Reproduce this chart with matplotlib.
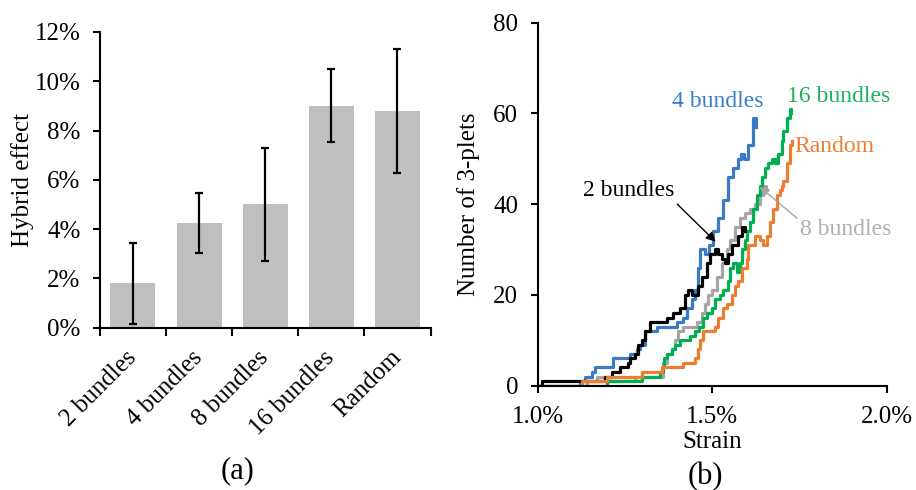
import matplotlib
matplotlib.use('Agg')
import matplotlib.pyplot as plt
from matplotlib.ticker import PercentFormatter, FixedLocator

plt.rcParams['font.family'] = ['Liberation Serif', 'DejaVu Serif']

# (a) hybrid effect per configuration, in %
categories = ['2 bundles', '4 bundles', '8 bundles', '16 bundles', 'Random']
hybrid_effect = [1.8, 4.25, 5.0, 9.0, 8.8]
hybrid_err = [1.65, 1.22, 2.28, 1.48, 2.52]

# (b) number of 3-plets vs strain (%)
blue_strain = [1.000, 1.120, 1.135, 1.155, 1.163, 1.215, 1.258, 1.264, 1.284, 1.292,
               1.307, 1.341, 1.398, 1.415, 1.427, 1.441, 1.450, 1.458, 1.465, 1.478,
               1.492, 1.501, 1.516, 1.530, 1.544, 1.559, 1.573, 1.583, 1.592, 1.602,
               1.616, 1.626]
blue_count = [0, 1, 2, 3, 4, 6, 6, 7, 8, 9,
              12, 13, 14, 15, 17, 19, 21, 26, 30, 29,
              31, 34, 37, 41, 46, 48, 50, 51, 50, 53,
              59, 57]

black_strain = [1.000, 1.011, 1.192, 1.212, 1.235, 1.258, 1.264, 1.278, 1.287, 1.298,
                1.307, 1.321, 1.370, 1.387, 1.398, 1.407, 1.421, 1.430, 1.441, 1.450,
                1.458, 1.470, 1.484, 1.493, 1.507, 1.516, 1.527, 1.536, 1.544, 1.556,
                1.564, 1.573, 1.585, 1.593]
black_count = [0, 1, 2, 3, 4, 5, 6, 7, 9, 10,
               12, 14, 15, 16, 16, 17, 20, 21, 20, 20,
               22, 24, 27, 29, 30, 29, 28, 27, 29, 31,
               31, 33, 35, 34]

gray_strain = [1.000, 1.140, 1.169, 1.198, 1.278, 1.330, 1.358, 1.370, 1.384, 1.393,
               1.401, 1.415, 1.444, 1.456, 1.470, 1.479, 1.487, 1.499, 1.513, 1.527,
               1.542, 1.550, 1.564, 1.579, 1.593, 1.607, 1.622, 1.636, 1.645, 1.653]
gray_count = [0, 1, 2, 1, 2, 2, 5, 7, 8, 10,
              12, 13, 13, 14, 16, 18, 20, 21, 24, 27,
              30, 32, 35, 37, 38, 39, 40, 42, 44, 43]

green_strain = [1.000, 1.200, 1.300, 1.350, 1.358, 1.361, 1.370, 1.384, 1.393, 1.407,
                1.427, 1.436, 1.450, 1.461, 1.473, 1.484, 1.499, 1.507, 1.521, 1.530,
                1.544, 1.550, 1.559, 1.570, 1.579, 1.585, 1.593, 1.599, 1.607, 1.616,
                1.628, 1.636, 1.642, 1.650, 1.659, 1.670, 1.679, 1.688, 1.699, 1.702,
                1.713, 1.722, 1.725]
green_count = [0, 1, 2, 3, 4, 6, 7, 8, 9, 10,
               10, 11, 12, 13, 15, 16, 17, 19, 20, 21,
               23, 26, 27, 25, 27, 30, 32, 34, 36, 39,
               42, 44, 46, 48, 49, 50, 49, 51, 54, 56,
               59, 61, 60]

orange_strain = [1.000, 1.126, 1.198, 1.298, 1.355, 1.415, 1.450, 1.458, 1.464, 1.473,
                 1.507, 1.516, 1.530, 1.542, 1.556, 1.564, 1.573, 1.585, 1.599, 1.602,
                 1.613, 1.622, 1.636, 1.645, 1.656, 1.665, 1.673, 1.685, 1.693, 1.699,
                 1.702, 1.713, 1.722, 1.728]
orange_count = [0, 1, 2, 3, 4, 5, 6, 8, 10, 12,
                13, 15, 17, 18, 20, 22, 23, 26, 28, 31,
                31, 33, 32, 31, 33, 36, 39, 42, 43, 44,
                45, 49, 53, 54]

fig = plt.figure(figsize=(9.16, 4.9), dpi=100)
fs = 18
fs_note = 17

# ---- (a) bar chart ----
ax1 = fig.add_axes([0.109, 0.331, 0.361, 0.604])
x = range(len(categories))
ax1.bar(x, hybrid_effect, width=0.68, color='#bfbfbf', zorder=1)
ax1.errorbar(x, hybrid_effect, yerr=hybrid_err, fmt='none', ecolor='black',
             elinewidth=1.6, capsize=3, capthick=1.6, zorder=2)
ax1.set_xlim(-0.5, 4.5)
ax1.set_ylim(0, 12)
ax1.set_yticks([0, 2, 4, 6, 8, 10, 12])
ax1.yaxis.set_major_formatter(PercentFormatter(decimals=0))
ax1.set_xticks(list(x))
ax1.set_xticklabels(categories, rotation=45, ha='right', va='center',
                    rotation_mode='anchor')
ax1.xaxis.set_minor_locator(FixedLocator([-0.5, 0.5, 1.5, 2.5, 3.5, 4.5]))
ax1.tick_params(axis='x', which='major', length=0, pad=19, labelsize=fs)
ax1.tick_params(axis='x', which='minor', length=5.5, width=1.5, direction='out')
ax1.tick_params(axis='y', length=5, width=1.5, pad=9, labelsize=fs)
for s in ['top', 'right']:
    ax1.spines[s].set_visible(False)
for s in ['left', 'bottom']:
    ax1.spines[s].set_linewidth(1.5)
ax1.set_ylabel('Hybrid effect', fontsize=fs)
ax1.yaxis.set_label_coords(-0.198, 0.5)

# ---- (b) step curves ----
ax2 = fig.add_axes([0.587, 0.213, 0.381, 0.741])
lw = 2.3
ax2.plot(gray_strain, gray_count, drawstyle='steps-post', color='#a5a5a5', lw=lw)
ax2.plot(blue_strain, blue_count, drawstyle='steps-post', color='#3a7bc4', lw=lw)
ax2.plot(green_strain, green_count, drawstyle='steps-post', color='#00b050', lw=lw)
ax2.plot(black_strain, black_count, drawstyle='steps-post', color='black', lw=lw)
ax2.plot(orange_strain, orange_count, drawstyle='steps-post', color='#ed7d31', lw=lw)
ax2.set_xlim(1.0, 2.0)
ax2.set_ylim(0, 80)
ax2.set_xticks([1.0, 1.5, 2.0])
ax2.set_xticklabels(['1.0%', '1.5%', '2.0%'])
ax2.set_yticks([0, 20, 40, 60, 80])
ax2.tick_params(axis='y', length=5, width=1.5, pad=9, labelsize=fs)
ax2.tick_params(axis='x', length=5, width=1.5, pad=10, labelsize=fs)
for s in ['top', 'right']:
    ax2.spines[s].set_visible(False)
for s in ['left', 'bottom']:
    ax2.spines[s].set_linewidth(1.5)
ax2.set_ylabel('Number of 3-plets', fontsize=fs)
ax2.yaxis.set_label_coords(-0.166, 0.5)
ax2.set_xlabel('Strain', fontsize=fs)
ax2.xaxis.set_label_coords(0.5, -0.125)

ax2.text(1.516, 62.5, '4 bundles', color='#3d7cc9', fontsize=fs_note,
         ha='center', va='center')
ax2.text(1.862, 63.8, '16 bundles', color='#1db35a', fontsize=fs_note,
         ha='center', va='center')
ax2.text(1.736, 52.6, 'Random', color='#ed7d31', fontsize=fs_note,
         ha='left', va='center')
ax2.annotate('8 bundles', xy=(1.636, 43.8), xytext=(1.751, 34.3),
             color='#b0b0b0', fontsize=fs_note, ha='left', va='center',
             arrowprops=dict(arrowstyle='-|>', color='#a5a5a5', lw=1.0,
                             mutation_scale=14, relpos=(0.0, 0.95),
                             shrinkA=0, shrinkB=0))
ax2.annotate('2 bundles', xy=(1.51, 31.7), xytext=(1.261, 42.9),
             color='black', fontsize=fs_note, ha='center', va='center',
             arrowprops=dict(arrowstyle='-|>', color='black', lw=1.0,
                             mutation_scale=14, relpos=(1.0, 0.0),
                             shrinkA=0, shrinkB=0))

fig.text(0.259, 0.039, '(a)', fontsize=22, ha='center', va='center')
fig.text(0.770, 0.027, '(b)', fontsize=22, ha='center', va='center')

plt.savefig('out.png', dpi=100)
